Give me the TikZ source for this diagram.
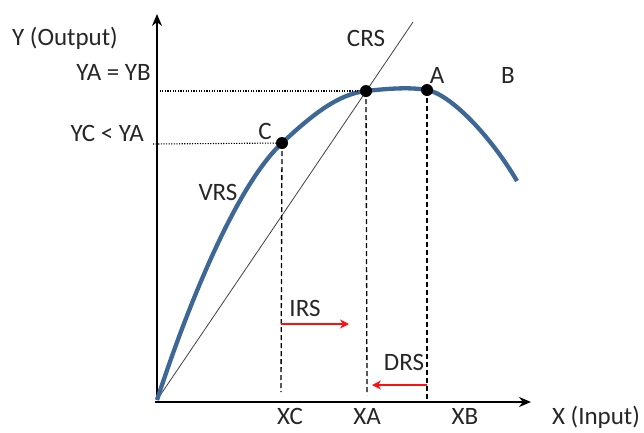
\documentclass[tikz,border=0pt]{standalone}
\usepackage{fontspec}
\setmainfont{Carlito}
\usetikzlibrary{arrows.meta}
\definecolor{curveblue}{HTML}{3D6795}
\definecolor{arrred}{HTML}{FF1010}
\begin{document}
\begin{tikzpicture}[x=1pt,y=-1pt,
  lbl/.style={font=\fontsize{25}{28}\selectfont, text=black!85, inner sep=0pt},
  axis/.style={line width=1.8pt, -{Stealth[length=12pt,width=10pt]}},
  guide/.style={line width=1.3pt, dash pattern=on 5pt off 3pt},
  dotline/.style={line width=1.1pt, dash pattern=on 1.2pt off 1.4pt},
  redarrow/.style={line width=1.1pt, arrred, -{Stealth[length=9pt,width=9pt,inset=3pt]}},
  pt/.style={circle, fill=black, minimum size=12pt, inner sep=0pt}]
\useasboundingbox (0,0) rectangle (644,432);
% coordinates
\coordinate (O) at (157,400);
\coordinate (Ytop) at (157,14);
\coordinate (Xend) at (531,402);
\coordinate (Xstart) at (155,402);
\coordinate (CRSend) at (413,22);
% axes
\draw[axis] (O) -- (Ytop);
\draw[axis] (Xstart) -- (Xend);
% CRS line
\draw[line width=0.8pt, black!75] (O) -- (CRSend);
% curve
\draw[curveblue, line width=4.3pt]
  (157,400) .. controls (188,305) and (236,186) .. (282,143)
  .. controls (312,115) and (338,94) .. (366,91)
  .. controls (390,88.4) and (410,87) .. (427,90)
  .. controls (450,94) and (490,135) .. (517,181);
% points
\node[pt] (C) at (282,143) {};
\node[pt] (M) at (366,91) {};
\node[pt] (A) at (427,90) {};
% guides
\coordinate (YAaxis) at (157,91);
\coordinate (YCaxis) at (153,144);
\coordinate (XCb) at (281,392);
\coordinate (XAb) at (367,395);
\coordinate (XBb) at (427,400);
\draw[dotline] (YAaxis) -- (M.center);
\draw[dotline] (YCaxis) -- (C.center);
\draw[guide] (C.center) -- (XCb);
\draw[guide] (M.center) -- (XAb);
\draw[guide] (A.center) -- (XBb);
% red arrows
\coordinate (IRSs) at (281,324);
\coordinate (IRSe) at (349,324);
\coordinate (DRSs) at (427,385);
\coordinate (DRSe) at (372,385);
\draw[redarrow] (IRSs) -- (IRSe);
\draw[redarrow] (DRSs) -- (DRSe);
% labels
\node[lbl] (ylab) at (65,38) {Y (Output)};
\node[lbl, anchor=east] (yab) at (151,72) {YA = YB};
\node[lbl, anchor=east] (yca) at (144,133) {YC < YA};
\node[lbl] (clab) at (265,131) {C};
\node[lbl] (vrs) at (218,192) {VRS};
\node[lbl] (crs) at (366,38) {CRS};
\node[lbl] (alab) at (437,75) {A};
\node[lbl] (blab) at (508,75) {B};
\node[lbl] (irs) at (305,308) {IRS};
\node[lbl] (drs) at (404,362) {DRS};
\node[lbl, anchor=base] (xc) at (290,424) {XC};
\node[lbl, anchor=base] (xa) at (367,424) {XA};
\node[lbl, anchor=base] (xb) at (465,424) {XB};
\node[lbl, anchor=base] (xlab) at (596,424) {X (Input)};
\end{tikzpicture}
\end{document}
